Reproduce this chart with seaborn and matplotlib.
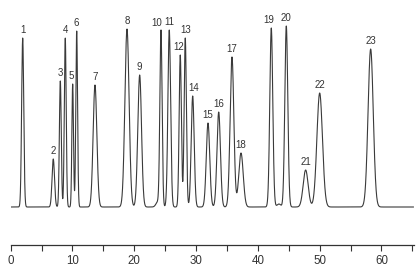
import numpy as np
import pandas as pd
import matplotlib
matplotlib.use("Agg")
import matplotlib.pyplot as plt
import seaborn as sns

# Peak table (retention time in min, height, width sigma in min)
peak_ids = [str(i) for i in range(1, 24)]
rt = [1.94, 6.89, 8.03, 8.83, 10.03, 10.68, 13.64, 18.82, 20.87, 24.32, 25.66,
      27.44, 28.25, 29.45, 31.93, 33.66, 35.81, 37.27, 42.17, 44.60, 47.73, 50.00, 58.25]
height = [169, 48, 126, 169, 123, 176, 122, 178, 132, 176, 177,
          152, 169, 111, 84, 95, 150, 54, 179, 181, 37, 114, 158]
sigma = [0.17, 0.2, 0.15, 0.15, 0.13, 0.14, 0.3, 0.34, 0.3, 0.18, 0.22,
         0.18, 0.18, 0.24, 0.28, 0.28, 0.3, 0.36, 0.24, 0.24, 0.4, 0.45, 0.42]
label_dx = [0, 0, 0, 0, -0.3, 0, 0, 0, 0, -0.7, 0,
            -0.3, 0.1, 0.1, 0, 0, 0, 0, -0.45, 0, 0, 0, 0]
# minor unlabeled bumps
bump_rt = [23.8, 43.4]
bump_h = [5, 3]
bump_sigma = [0.3, 0.3]

t = np.linspace(0, 65.2, 6000)
signal = np.zeros_like(t)
for r, h, s in zip(rt + bump_rt, height + bump_h, sigma + bump_sigma):
    signal += h * np.exp(-0.5 * ((t - r) / s) ** 2)
df = pd.DataFrame({"time": t, "signal": signal})

sns.set_theme(style="white")
plt.rcParams["font.family"] = ["Liberation Sans", "DejaVu Sans"]

fig = plt.figure(figsize=(4.17, 2.68), dpi=100)
ax = fig.add_axes([10.7 / 417, 1 - 245 / 268, (413.6 - 10.7) / 417, (245 - 12) / 268])
sns.lineplot(data=df, x="time", y="signal", ax=ax, color="#3a3a3a", linewidth=0.8)

for pid, r, h, dx in zip(peak_ids, rt, height, label_dx):
    ax.text(r + dx, h + 3, pid, ha="center", va="bottom", fontsize=7, color="#333333")

ax.set_xlim(0, 65.2)
ax.set_ylim(-38, 195)
ax.set_xticks([0, 10, 20, 30, 40, 50, 60])
ax.set_xticks([5, 15, 25, 35, 45, 55, 65], minor=True)
ax.set_yticks([])
ax.set_xlabel("")
ax.set_ylabel("")
for side in ["top", "right", "left"]:
    ax.spines[side].set_visible(False)
ax.spines["bottom"].set_color("#333333")
ax.spines["bottom"].set_linewidth(0.9)
ax.tick_params(axis="x", which="both", direction="out", length=4.5, width=0.8,
               color="#333333", bottom=True, labelsize=8.3, labelcolor="#333333", pad=2.5)

fig.savefig("out.png", dpi=100)
